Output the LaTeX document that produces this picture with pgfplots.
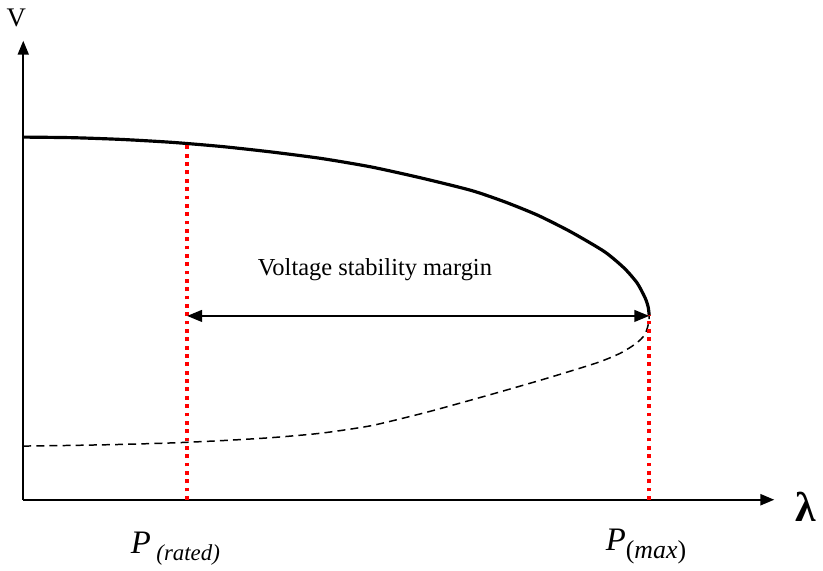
\documentclass[border=0pt]{standalone}
\usepackage{fontspec}
\setmainfont{Liberation Serif}
\usepackage{pgfplots}
\pgfplotsset{compat=1.18}
\usetikzlibrary{arrows.meta}

\begin{document}
\begin{tikzpicture}
\begin{axis}[
    x=0.5pt, y=0.5pt,
    xmin=0, xmax=756, ymin=0, ymax=462,
    axis lines=left,
    xtick=\empty, ytick=\empty,
    x axis line style={line width=1.2pt, -{Triangle[length=7pt,width=5.5pt]}},
    y axis line style={line width=1pt, -{Triangle[length=7pt,width=5.5pt]}},
    clip=false,
  ]
  % page frame, same margins as the reference
  \path (axis cs:-22,-71) rectangle (axis cs:801,503);

  % upper (stable) branch
  \addplot[black, line width=1.6pt, smooth, tension=0.4] coordinates {
    (0,365) (50,364.4) (100,362.6) (150,359.7) (200,355.5) (250,350)
    (300,343.5) (350,335) (400,324) (451,311.3) (485,299.7) (518,286.3)
    (551,269.7) (585,249.7) (605,233) (618,218) (626,203) (629,194) (630,186)
  };
  % lower (unstable) branch
  \addplot[black, line width=0.75pt, dash pattern=on 4pt off 2.6pt, smooth, tension=0.4] coordinates {
    (0,54) (50,54.7) (100,55.7) (150,57.2) (200,59.5) (250,62.5) (300,67)
    (350,74.5) (400,86.5) (428,94) (478,108) (528,122.5) (578,138)
    (600,147) (612,154) (620,160) (625.5,166) (628.5,174) (629.7,180) (630,186)
  };

  % red dotted markers
  \addplot[red, line width=1.9pt, dash pattern=on 1.9pt off 2.3pt] coordinates {(165,0) (165,360)};
  \addplot[red, line width=1.9pt, dash pattern=on 1.9pt off 2.3pt] coordinates {(630,0) (630,186)};

  % margin arrow
  \addplot[black, line width=0.75pt, {Triangle[length=7.5pt,width=6pt]}-{Triangle[length=7.5pt,width=6pt]}]
    coordinates {(165,185) (630,185)};

  \node[font=\fontsize{12.3}{14}\selectfont] at (axis cs:354,232) {Voltage stability margin};
  \node[font=\fontsize{13.5}{15}\selectfont] at (axis cs:-7,485) {V};
  \node[font=\fontsize{21}{23}\selectfont\bfseries] at (axis cs:788,-7) {λ};
  \node[anchor=west, inner sep=0pt] at (axis cs:108,-49)
    {\fontsize{16.5}{18}\selectfont\textit{P}\,\raisebox{-0.45ex}{\fontsize{11.5}{13}\selectfont\textit{(rated)}}};
  \node[anchor=west, inner sep=0pt] at (axis cs:586,-47)
    {\fontsize{16.5}{18}\selectfont\textit{P}\raisebox{-0.5ex}{\fontsize{13}{15}\selectfont(\textit{max})}};
\end{axis}
\end{tikzpicture}
\end{document}
